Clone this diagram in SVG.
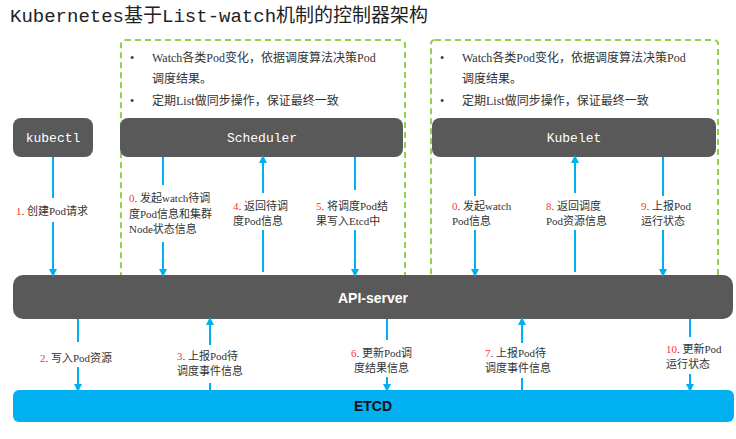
<svg xmlns="http://www.w3.org/2000/svg" width="736" height="439" viewBox="0 0 736 439">
<style>
.dark{fill:#595959}
.bt{font-family:"Liberation Mono","Noto Sans CJK SC",monospace;font-size:13px;fill:#fff;text-anchor:middle}
.t{font-family:"Liberation Serif","Noto Sans CJK SC",serif;font-size:11px;fill:#333}
.n{fill:#ff3333}
.b{font-family:"Liberation Serif","Noto Sans CJK SC",serif;font-size:12px;fill:#333}
.ln{stroke:#00B0F0;stroke-width:2;fill:none}
.dash{fill:none;stroke:#92D050;stroke-width:2;stroke-dasharray:6,4}
</style>
<defs><marker id="a" markerWidth="8" markerHeight="8" refX="4" refY="4" orient="auto" markerUnits="userSpaceOnUse"><path d="M0,0L8,4L0,8z" fill="#00B0F0"/></marker></defs>
<rect width="736" height="439" fill="#fff"/>
<text x="10" y="22" font-family="Liberation Mono,Noto Sans CJK SC,monospace" font-size="19" fill="#222">Kubernetes基于List-watch机制的控制器架构</text>
<g id="sched-box"><rect class="dash" x="121" y="40" width="284" height="250" rx="4"/>
<text class="b" x="130" y="62">•</text><text class="b" x="152" y="62">Watch各类Pod变化，依据调度算法决策Pod</text><text class="b" x="152" y="83">调度结果。</text>
<text class="b" x="130" y="105">•</text><text class="b" x="152" y="105">定期List做同步操作，保证最终一致</text></g>
<g id="kubelet-box"><rect class="dash" x="431" y="40" width="287" height="250" rx="4"/>
<text class="b" x="440" y="62">•</text><text class="b" x="462" y="62">Watch各类Pod变化，依据调度算法决策Pod</text><text class="b" x="462" y="83">调度结果。</text>
<text class="b" x="440" y="105">•</text><text class="b" x="462" y="105">定期List做同步操作，保证最终一致</text></g>
<g id="kubectl"><rect class="dark" x="13" y="118" width="80" height="39" rx="8"/><text class="bt" x="53" y="142">kubectl</text></g>
<g id="scheduler"><rect class="dark" x="120" y="118" width="283" height="39" rx="8"/><text class="bt" x="262" y="142">Scheduler</text></g>
<g id="kubelet"><rect class="dark" x="432" y="118" width="284" height="39" rx="8"/><text class="bt" x="574" y="142">Kubelet</text></g>
<g id="api"><rect class="dark" x="13" y="275" width="720" height="44" rx="10"/><text x="373" y="303" font-family="Liberation Sans,sans-serif" font-size="14" font-weight="bold" fill="#fff" text-anchor="middle">API-server</text></g>
<g id="etcd"><rect fill="#00B0F0" x="13" y="390" width="721" height="32" rx="6"/><text x="373" y="411" font-family="Liberation Sans,sans-serif" font-size="14" font-weight="bold" fill="#111" text-anchor="middle">ETCD</text></g>
<g id="connectors">
<path class="ln" d="M53,157V198M53,222V273" marker-end="url(#a)"/>
<path class="ln" d="M163,157V185M163,242V273" marker-end="url(#a)"/>
<path class="ln" d="M263,272V230M263,193V159" marker-end="url(#a)"/>
<path class="ln" d="M355,157V190M355,230V273" marker-end="url(#a)"/>
<path class="ln" d="M475,157V196M475,230V273" marker-end="url(#a)"/>
<path class="ln" d="M575,272V230M575,193V159" marker-end="url(#a)"/>
<path class="ln" d="M663,157V196M663,230V273" marker-end="url(#a)"/>
<path class="ln" d="M78,319V342M78,367V388" marker-end="url(#a)"/>
<path class="ln" d="M210,390V383M210,345V321" marker-end="url(#a)"/>
<path class="ln" d="M387,319V340M387,377V388" marker-end="url(#a)"/>
<path class="ln" d="M522,390V378M522,343V321" marker-end="url(#a)"/>
<path class="ln" d="M690,319V337M690,374V388" marker-end="url(#a)"/>
</g>
<g id="labels">
<text class="t" x="16" y="215"><tspan class="n">1</tspan>. 创建Pod请求</text>
<text class="t" x="129" y="202"><tspan class="n">0</tspan>. 发起watch待调</text><text class="t" x="129" y="218">度Pod信息和集群</text><text class="t" x="129" y="233">Node状态信息</text>
<text class="t" x="233" y="210"><tspan class="n">4</tspan>. 返回待调</text><text class="t" x="233" y="225">度Pod信息</text>
<text class="t" x="316" y="210"><tspan class="n">5</tspan>. 将调度Pod结</text><text class="t" x="316" y="225">果写入Etcd中</text>
<text class="t" x="452" y="210"><tspan class="n">0</tspan>. 发起watch</text><text class="t" x="452" y="225">Pod信息</text>
<text class="t" x="546" y="210"><tspan class="n">8</tspan>. 返回调度</text><text class="t" x="546" y="225">Pod资源信息</text>
<text class="t" x="641" y="210"><tspan class="n">9</tspan>. 上报Pod</text><text class="t" x="641" y="225">运行状态</text>
<text class="t" x="40" y="362"><tspan class="n">2</tspan>. 写入Pod资源</text>
<text class="t" x="177" y="360"><tspan class="n">3</tspan>. 上报Pod待</text><text class="t" x="177" y="375">调度事件信息</text>
<text class="t" x="351" y="357"><tspan class="n">6</tspan>. 更新Pod调</text><text class="t" x="354" y="372">度结果信息</text>
<text class="t" x="485" y="357"><tspan class="n">7</tspan>. 上报Pod待</text><text class="t" x="485" y="372">调度事件信息</text>
<text class="t" x="666" y="353"><tspan class="n">10</tspan>. 更新Pod</text><text class="t" x="666" y="368">运行状态</text>
</g>
</svg>
